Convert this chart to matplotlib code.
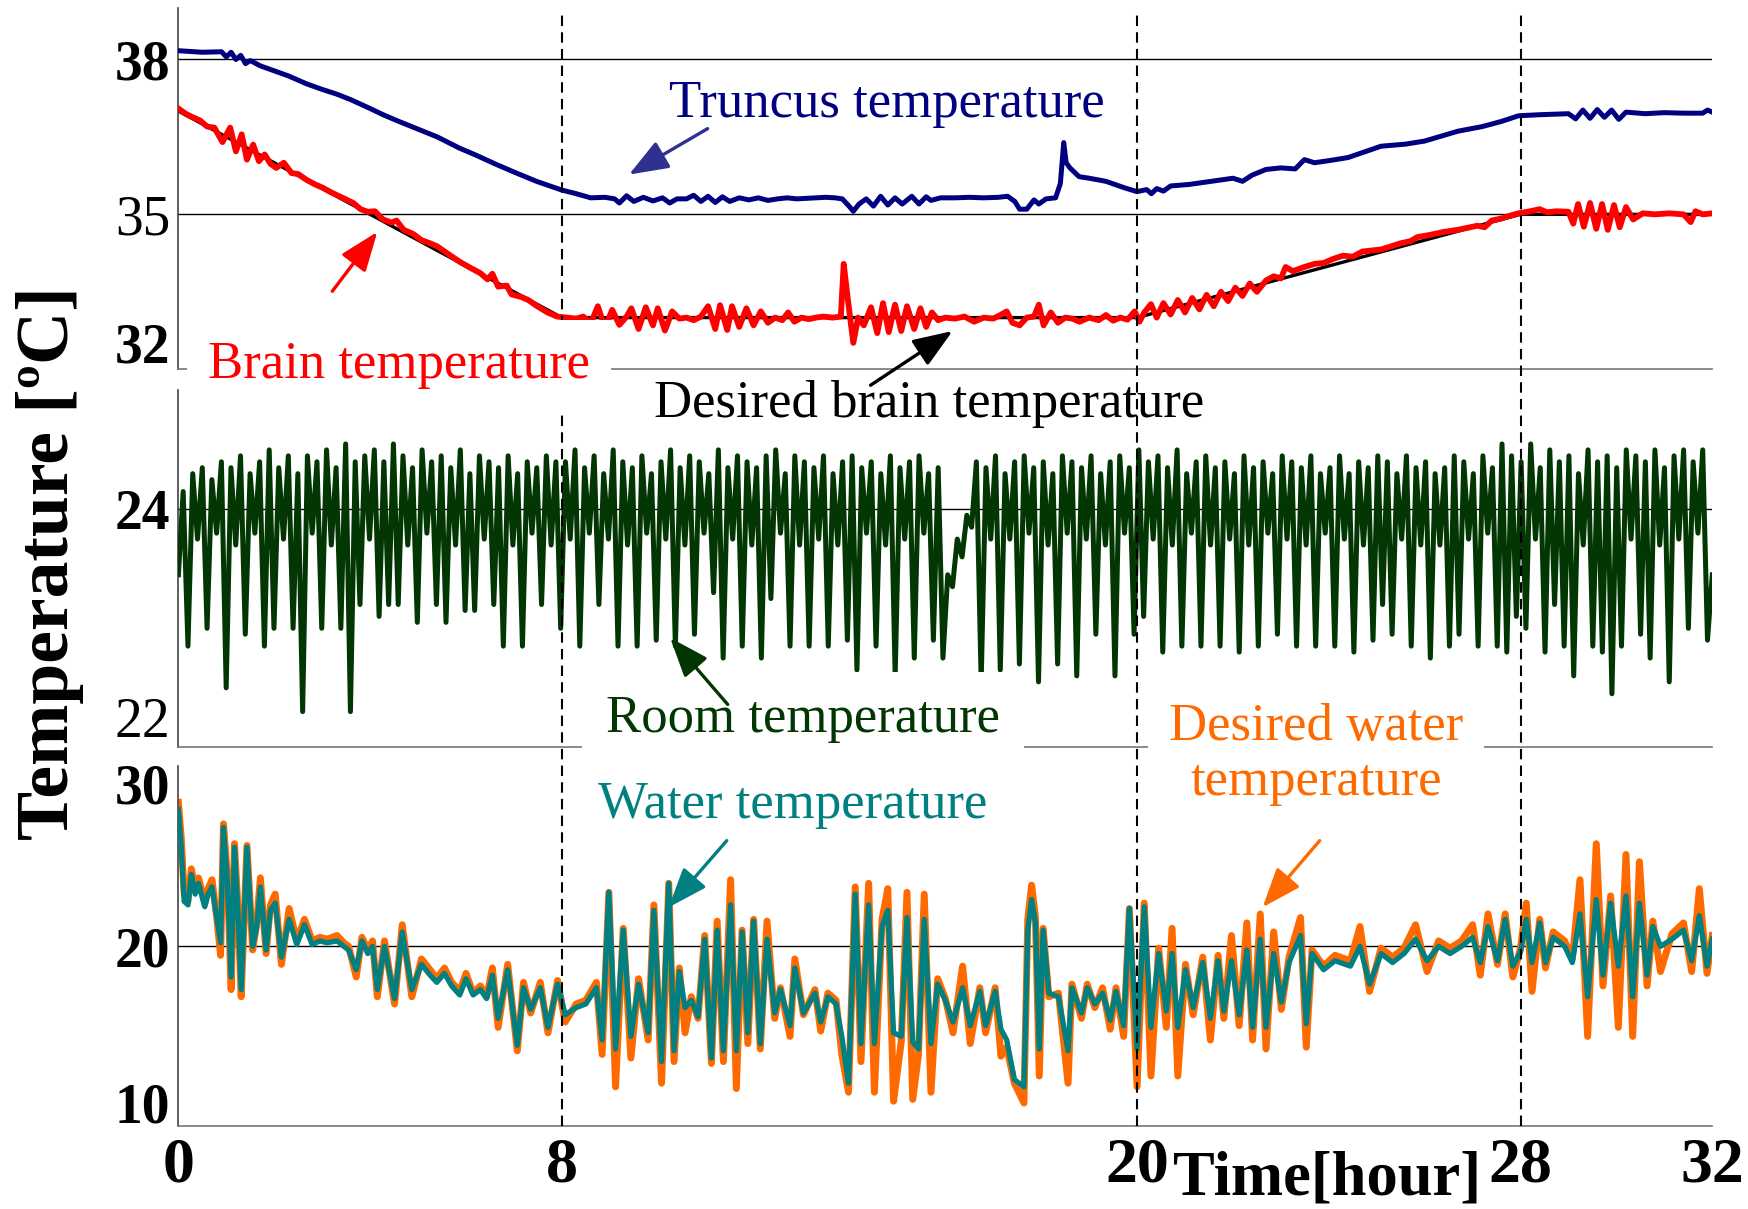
import numpy as np
import matplotlib
matplotlib.use("Agg")
import matplotlib.pyplot as plt
from matplotlib.transforms import ScaledTranslation, blended_transform_factory
from matplotlib.lines import Line2D
from matplotlib.patches import FancyArrowPatch

plt.rcParams['font.family'] = ['Liberation Serif', 'DejaVu Serif']

# ---------------- data ----------------
hours = [0, 8, 20, 28, 32]

# desired brain temperature (set points)
desired_brain_t = [0, 8, 20, 28, 32]
desired_brain = [37.0, 33.0, 33.0, 35.0, 35.0]

truncus_t = [0.00, 0.50, 0.90, 1.00, 1.10, 1.20, 1.30, 1.40, 1.50, 1.70,
             2.00, 2.30, 2.67, 3.00, 3.30, 3.60, 4.00, 4.27, 4.60, 5.00,
             5.40, 5.87, 6.20, 6.60, 7.00, 7.47, 8.00, 8.30, 8.60, 8.90,
             9.10, 9.20, 9.35, 9.50, 9.70, 9.90, 10.10, 10.25, 10.40, 10.60,
             10.75, 10.90, 11.05, 11.20, 11.35, 11.50, 11.70, 11.90, 12.10, 12.30,
             12.50, 12.70, 12.90, 13.10, 13.30, 13.50, 13.70, 13.85, 14.00, 14.08,
             14.20, 14.35, 14.50, 14.65, 14.80, 14.95, 15.10, 15.30, 15.45, 15.60,
             15.70, 15.90, 16.20, 16.50, 16.80, 17.10, 17.30, 17.45, 17.55, 17.70,
             17.85, 17.95, 18.10, 18.30, 18.40, 18.47, 18.52, 18.60, 18.79, 19.00,
             19.35, 19.75, 20.00, 20.20, 20.30, 20.41, 20.55, 20.70, 21.09, 21.40,
             21.70, 22.00, 22.20, 22.40, 22.69, 23.00, 23.30, 23.49, 23.70, 24.00,
             24.40, 25.09, 25.60, 26.00, 26.69, 27.20, 27.60, 27.96, 28.40, 29.00,
             29.15, 29.30, 29.45, 29.60, 29.75, 29.90, 30.05, 30.20, 30.60, 31.00,
             31.40, 31.80, 31.90, 32.00]
truncus = [38.17, 38.14, 38.15, 38.05, 38.14, 38.00, 38.08, 37.92, 37.98, 37.88,
           37.78, 37.68, 37.53, 37.42, 37.33, 37.22, 37.05, 36.93, 36.80, 36.65,
           36.50, 36.28, 36.15, 35.98, 35.82, 35.64, 35.47, 35.40, 35.32, 35.33,
           35.30, 35.22, 35.36, 35.25, 35.33, 35.26, 35.32, 35.22, 35.30, 35.30,
           35.37, 35.25, 35.35, 35.23, 35.34, 35.25, 35.32, 35.28, 35.32, 35.27,
           35.30, 35.32, 35.30, 35.31, 35.32, 35.33, 35.32, 35.30, 35.15, 35.06,
           35.20, 35.30, 35.16, 35.35, 35.18, 35.32, 35.20, 35.35, 35.20, 35.34,
           35.27, 35.32, 35.32, 35.33, 35.32, 35.33, 35.35, 35.25, 35.10, 35.10,
           35.28, 35.20, 35.30, 35.32, 35.60, 36.39, 36.00, 35.90, 35.73, 35.70,
           35.64, 35.51, 35.44, 35.48, 35.40, 35.50, 35.45, 35.55, 35.58, 35.62,
           35.66, 35.70, 35.64, 35.76, 35.87, 35.90, 35.88, 36.06, 36.00, 36.04,
           36.10, 36.32, 36.36, 36.42, 36.61, 36.70, 36.80, 36.91, 36.93, 36.95,
           36.85, 37.02, 36.86, 37.03, 36.88, 37.02, 36.84, 36.98, 36.95, 36.97,
           36.96, 36.96, 37.02, 36.98]

brain_t = [0.00, 0.15, 0.30, 0.45, 0.60, 0.75, 0.92, 1.08, 1.20, 1.32,
           1.43, 1.56, 1.68, 1.80, 1.92, 2.04, 2.20, 2.36, 2.50, 2.67,
           2.85, 3.00, 3.20, 3.47, 3.65, 3.80, 3.95, 4.10, 4.27, 4.45,
           4.55, 4.70, 4.90, 5.07, 5.25, 5.40, 5.60, 5.87, 6.10, 6.30,
           6.45, 6.55, 6.67, 6.85, 6.95, 7.15, 7.30, 7.47, 7.70, 7.90,
           8.10, 8.30, 8.45, 8.60, 8.75, 8.90, 9.05, 9.20, 9.35, 9.45,
           9.60, 9.75, 9.90, 10.00, 10.15, 10.30, 10.45, 10.60, 10.75, 10.90,
           11.05, 11.20, 11.30, 11.45, 11.55, 11.70, 11.85, 12.00, 12.15, 12.30,
           12.45, 12.60, 12.72, 12.85, 13.00, 13.15, 13.30, 13.45, 13.65, 13.82,
           13.88, 13.96, 14.08, 14.18, 14.30, 14.45, 14.58, 14.70, 14.82, 14.95,
           15.08, 15.20, 15.35, 15.48, 15.60, 15.72, 15.85, 16.00, 16.20, 16.40,
           16.60, 16.80, 17.00, 17.15, 17.28, 17.40, 17.55, 17.70, 17.85, 17.95,
           18.05, 18.20, 18.35, 18.50, 18.65, 18.80, 19.00, 19.20, 19.35, 19.50,
           19.65, 19.80, 19.95, 20.05, 20.15, 20.29, 20.41, 20.55, 20.70, 20.85,
           21.00, 21.15, 21.30, 21.45, 21.60, 21.75, 21.90, 22.05, 22.20, 22.35,
           22.50, 22.69, 22.85, 23.00, 23.10, 23.25, 23.49, 23.70, 23.90, 24.10,
           24.30, 24.50, 24.70, 25.09, 25.30, 25.50, 25.70, 25.85, 26.10, 26.40,
           26.69, 26.90, 27.10, 27.25, 27.40, 27.60, 27.80, 27.96, 28.20, 28.40,
           28.55, 28.75, 29.00, 29.10, 29.20, 29.32, 29.45, 29.58, 29.70, 29.82,
           29.95, 30.07, 30.20, 30.35, 30.55, 30.80, 31.10, 31.40, 31.55, 31.65,
           31.80, 32.00]
brain = [37.05, 36.95, 36.88, 36.82, 36.70, 36.68, 36.40, 36.68, 36.22, 36.55,
         36.06, 36.35, 36.03, 36.16, 35.98, 35.90, 36.00, 35.80, 35.78, 35.67,
         35.58, 35.52, 35.42, 35.30, 35.22, 35.10, 35.05, 35.06, 34.90, 34.84,
         34.88, 34.70, 34.62, 34.50, 34.44, 34.38, 34.25, 34.08, 33.96, 33.86,
         33.74, 33.85, 33.60, 33.62, 33.45, 33.40, 33.34, 33.23, 33.10, 33.02,
         33.00, 32.98, 33.02, 32.88, 33.22, 32.80, 33.15, 32.86, 33.02, 33.18,
         32.78, 33.20, 32.85, 33.18, 32.75, 33.12, 32.98, 33.00, 32.95, 33.02,
         33.22, 32.78, 33.24, 32.76, 33.22, 32.82, 33.18, 32.85, 33.12, 32.90,
         33.00, 32.95, 33.10, 32.92, 33.00, 32.97, 33.00, 33.02, 33.00, 33.02,
         34.04, 33.40, 32.51, 33.00, 32.85, 33.20, 32.70, 33.28, 32.72, 33.25,
         32.74, 33.22, 32.78, 33.18, 32.82, 33.10, 32.95, 33.00, 32.98, 33.02,
         32.92, 33.00, 32.98, 33.05, 33.12, 32.90, 32.85, 33.00, 33.02, 33.25,
         32.85, 33.10, 32.90, 33.00, 32.98, 32.92, 33.00, 32.95, 33.05, 32.94,
         33.00, 32.96, 33.12, 32.92, 33.10, 33.26, 33.00, 33.28, 33.06, 33.34,
         33.10, 33.38, 33.16, 33.44, 33.22, 33.50, 33.32, 33.58, 33.42, 33.66,
         33.50, 33.72, 33.80, 33.76, 33.98, 33.90, 33.98, 34.04, 34.06, 34.14,
         34.20, 34.18, 34.28, 34.32, 34.38, 34.44, 34.48, 34.56, 34.60, 34.66,
         34.70, 34.74, 34.78, 34.75, 34.88, 34.92, 34.98, 35.02, 35.06, 35.10,
         35.04, 35.06, 35.05, 34.82, 35.20, 34.76, 35.22, 34.72, 35.20, 34.70,
         35.18, 34.75, 35.14, 34.90, 35.02, 35.00, 35.02, 35.00, 34.85, 35.06,
         35.00, 35.02]

# room temperature: one peak and one trough per thermostat cycle (4 h per row)
room_start, room_end = 23.45, 23.45
room_peak = [24.15, 24.30, 24.35, 24.25, 24.40, 24.35, 24.45, 24.30, 24.40, 24.50,
             24.35, 24.45, 24.30, 24.45, 24.40, 24.50, 24.35, 24.55, 24.40, 24.45,
             24.50, 24.40, 24.55, 24.45, 24.35, 24.50, 24.40, 24.45, 24.35, 24.50,
             24.30, 24.45, 24.40, 24.35, 24.45, 24.30, 24.40, 24.35, 24.45, 24.40,
             24.40, 24.50, 24.35, 24.45, 24.30, 24.50, 24.40, 24.35, 24.45, 24.30,
             24.40, 24.50, 24.35, 24.45, 24.40, 24.30, 24.50, 24.35, 24.45, 24.40,
             24.35, 24.45, 24.50, 24.30, 24.45, 24.40, 24.35, 24.45, 24.30, 24.40,
             24.45, 24.35, 24.40, 24.30, 24.45, 24.35, 24.40, 24.45, 24.30, 24.35,
             23.45, 23.75, 23.95, 24.40, 24.35, 24.45, 24.30, 24.40, 24.45, 24.35,
             24.40, 24.30, 24.45, 24.40, 24.35, 24.45, 24.30, 24.40, 24.45, 24.35,
             24.50, 24.40, 24.45, 24.35, 24.50, 24.30, 24.40, 24.45, 24.35, 24.40,
             24.30, 24.45, 24.35, 24.40, 24.30, 24.45, 24.40, 24.35, 24.45, 24.30,
             24.35, 24.45, 24.30, 24.40, 24.35, 24.45, 24.40, 24.30, 24.45, 24.35,
             24.40, 24.30, 24.35, 24.45, 24.40, 24.30, 24.45, 24.35, 24.55, 24.45,
             24.40, 24.55, 24.35, 24.50, 24.40, 24.45, 24.30, 24.50, 24.40, 24.45,
             24.35, 24.50, 24.45, 24.40, 24.50, 24.35, 24.45, 24.50, 24.40, 24.50]
room_trough = [22.85, 23.75, 23.00, 23.80, 22.50, 23.70, 22.95, 23.80, 22.85, 23.00,
               23.75, 23.00, 22.30, 23.80, 23.00, 23.70, 23.00, 22.30, 23.20, 23.75,
               23.10, 23.20, 23.20, 23.70, 23.05, 23.80, 23.20, 23.05, 23.70, 23.15,
               23.15, 23.75, 23.20, 22.85, 23.70, 22.85, 23.80, 23.20, 23.70, 23.00,
               23.75, 22.85, 23.80, 23.20, 23.75, 22.85, 23.70, 22.85, 23.80, 22.90,
               23.75, 22.85, 23.70, 22.95, 23.80, 23.30, 22.75, 23.75, 22.85, 23.70,
               22.75, 23.25, 23.80, 22.85, 23.70, 22.85, 23.75, 22.85, 23.70, 22.90,
               22.65, 23.80, 22.85, 23.70, 22.60, 23.75, 22.75, 23.80, 22.90, 22.75,
               23.35, 23.60, 23.85, 22.55, 23.75, 22.65, 23.75, 22.70, 23.80, 22.55,
               23.70, 22.70, 23.80, 22.60, 23.75, 22.95, 23.70, 22.60, 23.80, 22.95,
               23.10, 23.75, 22.80, 23.70, 22.85, 23.80, 22.85, 23.70, 22.85, 23.75,
               22.80, 23.70, 22.85, 23.80, 22.95, 23.75, 22.85, 23.70, 22.85, 23.80,
               22.85, 23.75, 22.80, 23.70, 22.90, 23.20, 22.95, 23.75, 22.85, 23.70,
               22.75, 23.70, 22.85, 22.95, 23.75, 22.85, 23.80, 22.85, 22.80, 23.10,
               23.00, 23.75, 22.80, 23.20, 22.85, 22.60, 23.70, 22.85, 22.80, 22.45,
               22.85, 23.75, 22.95, 22.75, 23.70, 22.55, 23.75, 23.00, 23.80, 22.90]

water_t = [0.00, 0.06, 0.12, 0.20, 0.27, 0.35, 0.42, 0.55, 0.62, 0.70,
           0.80, 0.88, 0.94, 1.02, 1.10, 1.17, 1.24, 1.31, 1.43, 1.55,
           1.63, 1.71, 1.83, 1.92, 2.02, 2.15, 2.31, 2.47, 2.63, 2.79,
           2.95, 3.10, 3.31, 3.45, 3.55, 3.71, 3.83, 3.95, 4.05, 4.15,
           4.30, 4.51, 4.67, 4.87, 5.07, 5.25, 5.39, 5.55, 5.70, 5.87,
           6.00, 6.15, 6.30, 6.43, 6.55, 6.67, 6.87, 7.07, 7.20, 7.35,
           7.55, 7.71, 7.91, 8.07, 8.30, 8.50, 8.72, 8.84, 8.98, 9.12,
           9.28, 9.44, 9.60, 9.80, 9.92, 10.08, 10.23, 10.34, 10.45, 10.57,
           10.70, 10.84, 10.98, 11.12, 11.24, 11.37, 11.52, 11.64, 11.76, 11.88,
           12.00, 12.14, 12.28, 12.44, 12.56, 12.76, 12.86, 13.04, 13.28, 13.40,
           13.55, 13.72, 13.84, 13.98, 14.12, 14.24, 14.40, 14.52, 14.68, 14.80,
           14.92, 15.08, 15.20, 15.32, 15.44, 15.56, 15.70, 15.84, 16.00, 16.16,
           16.36, 16.52, 16.72, 16.84, 17.04, 17.16, 17.28, 17.44, 17.64, 17.72,
           17.80, 17.88, 17.96, 18.04, 18.16, 18.36, 18.56, 18.64, 18.84, 18.96,
           19.12, 19.28, 19.44, 19.56, 19.72, 19.84, 20.00, 20.15, 20.29, 20.45,
           20.61, 20.73, 20.85, 21.01, 21.17, 21.37, 21.53, 21.69, 21.81, 21.97,
           22.13, 22.29, 22.41, 22.57, 22.69, 22.85, 23.01, 23.17, 23.41, 23.53,
           23.65, 23.89, 24.13, 24.45, 24.65, 24.85, 25.09, 25.33, 25.57, 25.81,
           26.05, 26.29, 26.53, 26.77, 27.00, 27.16, 27.32, 27.52, 27.68, 27.84,
           28.00, 28.12, 28.24, 28.40, 28.52, 28.68, 28.92, 29.08, 29.24, 29.40,
           29.58, 29.72, 29.88, 30.04, 30.20, 30.34, 30.48, 30.64, 30.76, 30.92,
           31.16, 31.40, 31.57, 31.73, 31.89, 32.00]
water = [27.6, 25.5, 22.5, 22.3, 24.0, 22.9, 23.5, 22.2, 22.9, 23.3,
         21.6, 20.2, 26.6, 23.7, 18.3, 25.5, 22.0, 17.6, 25.5, 20.0,
         21.0, 23.3, 19.8, 22.0, 22.4, 19.4, 21.5, 20.1, 21.2, 20.1,
         20.3, 20.2, 20.3, 20.0, 19.8, 18.7, 20.3, 19.6, 20.0, 17.6,
         20.0, 17.1, 20.8, 17.6, 19.0, 18.4, 18.0, 18.5, 17.8, 17.3,
         18.2, 17.3, 17.6, 17.1, 18.4, 16.0, 18.7, 14.5, 17.7, 16.5,
         17.7, 15.5, 17.9, 16.2, 16.6, 16.8, 17.7, 14.8, 23.0, 14.3,
         20.9, 15.0, 17.9, 15.2, 22.0, 13.6, 23.5, 14.2, 18.6, 16.6,
         17.0, 16.1, 20.4, 13.8, 20.9, 14.2, 22.3, 14.2, 20.8, 15.2,
         21.4, 14.6, 20.4, 16.3, 17.6, 15.6, 18.8, 16.3, 17.4, 15.8,
         17.2, 16.8, 15.0, 12.4, 22.9, 14.6, 22.3, 14.6, 21.1, 22.0,
         15.2, 15.0, 21.6, 14.7, 14.3, 21.5, 14.6, 17.9, 17.0, 15.8,
         17.7, 15.6, 17.5, 15.6, 17.5, 15.4, 14.8, 12.6, 12.2, 20.9,
         22.6, 21.3, 14.3, 20.9, 17.4, 17.2, 14.2, 17.7, 16.3, 17.7,
         16.8, 17.4, 15.9, 17.5, 15.6, 22.1, 14.3, 22.2, 15.5, 19.6,
         16.4, 19.6, 15.5, 18.7, 16.6, 19.1, 16.0, 19.2, 16.4, 19.2,
         16.2, 19.8, 15.5, 20.4, 15.5, 19.6, 16.9, 19.1, 20.6, 15.7,
         19.6, 18.7, 19.2, 18.9, 20.0, 17.9, 19.6, 19.1, 19.6, 20.4,
         19.2, 20.0, 19.6, 20.0, 20.5, 19.1, 21.1, 19.2, 21.5, 18.9,
         19.7, 21.5, 19.1, 21.3, 19.1, 20.5, 20.0, 19.1, 21.8, 17.2,
         22.6, 18.4, 22.4, 18.9, 22.8, 17.2, 22.4, 18.4, 21.1, 20.0,
         20.4, 20.9, 19.2, 21.7, 18.9, 20.4]
desired_water = [28.0, 26.0, 22.9, 22.5, 24.3, 23.1, 23.8, 22.4, 23.2, 23.7,
                 21.6, 19.5, 26.8, 24.0, 17.6, 25.7, 22.2, 17.2, 25.6, 19.8,
                 21.2, 23.8, 19.6, 22.3, 22.9, 19.0, 22.1, 20.3, 21.5, 20.3,
                 20.5, 20.4, 20.6, 20.2, 20.0, 18.3, 20.5, 19.8, 20.3, 17.2,
                 20.3, 16.8, 21.2, 17.2, 19.3, 18.7, 18.2, 18.8, 18.0, 17.5,
                 18.5, 17.4, 17.8, 17.2, 18.8, 15.5, 19.0, 14.2, 18.0, 16.3,
                 18.0, 15.2, 18.1, 15.8, 16.8, 17.0, 18.0, 14.0, 23.0, 12.2,
                 21.0, 13.8, 18.2, 14.8, 22.3, 12.4, 23.5, 13.6, 18.8, 15.2,
                 17.2, 16.0, 20.6, 13.5, 21.4, 13.6, 23.7, 12.1, 20.9, 14.6,
                 21.5, 14.3, 21.4, 16.0, 17.7, 15.0, 19.3, 16.2, 17.6, 15.3,
                 17.4, 17.0, 14.0, 11.9, 23.3, 13.6, 23.5, 11.9, 21.5, 23.2,
                 11.4, 14.7, 23.0, 11.5, 14.0, 22.9, 11.9, 18.2, 17.1, 15.2,
                 18.9, 14.6, 17.7, 15.2, 17.7, 13.9, 14.4, 12.4, 11.3, 21.5,
                 23.4, 21.6, 12.8, 21.0, 17.2, 17.4, 12.4, 17.9, 16.0, 17.9,
                 16.6, 17.7, 15.4, 17.7, 15.0, 22.1, 12.2, 22.4, 12.8, 19.9,
                 15.5, 21.0, 12.8, 19.0, 16.2, 19.4, 14.8, 19.5, 16.0, 20.6,
                 15.6, 21.3, 14.8, 21.8, 14.3, 20.8, 16.5, 19.4, 21.6, 14.4,
                 19.8, 18.9, 19.5, 19.2, 21.1, 17.5, 19.9, 19.4, 19.9, 21.2,
                 18.6, 20.3, 19.9, 20.3, 21.2, 18.4, 21.8, 19.0, 21.8, 18.3,
                 19.9, 22.4, 17.5, 21.5, 18.8, 20.8, 20.3, 19.3, 23.7, 15.0,
                 25.7, 17.8, 22.8, 15.5, 25.1, 15.0, 24.7, 17.8, 21.4, 18.6,
                 20.7, 21.3, 18.6, 23.2, 18.5, 20.6]

# ---------------- colours ----------------
c_truncus = '#000080'
c_brain = '#ff0000'
c_room = '#023602'
c_water = '#008080'
c_setwater = '#ff6a00'

room = np.concatenate([[room_start],
                       np.column_stack([room_peak, room_trough]).ravel(),
                       [room_end]])
room_t = np.linspace(0, 32, len(room))

fig = plt.figure(figsize=(17.49, 12.09), dpi=100)
left, width = 0.102, 0.877
ax1 = fig.add_axes([left, 0.6946, width, 0.2989])
ax2 = fig.add_axes([left, 0.3819, width, 0.2952])
ax3 = fig.add_axes([left, 0.0683, width, 0.2979])

for ax in (ax1, ax2, ax3):
    ax.set_facecolor('none')
    ax.set_xlim(0, 32)
    for s in ('top', 'right'):
        ax.spines[s].set_visible(False)
    ax.spines['left'].set_color('#444444')
    ax.spines['bottom'].set_color('#777777')
    ax.spines['left'].set_linewidth(1.2)
    ax.spines['bottom'].set_linewidth(1.2)
    ax.tick_params(length=0)

# top panel
ax1.set_ylim(32, 39)
ax1.axhline(35, color='black', lw=1.0, zorder=1)
ax1.axhline(38, color='black', lw=1.0, zorder=1)
ax1.plot(desired_brain_t, desired_brain, color='black', lw=2.4, zorder=2)
ax1.plot(brain_t, brain, color=c_brain, lw=4.2, zorder=3)
ax1.plot(truncus_t, truncus, color=c_truncus, lw=3.6, zorder=3)

# middle panel
ax2.set_ylim(22, 25)
ax2.axhline(24, color='black', lw=1.0, zorder=1)
ax2.plot(room_t, room, color=c_room, lw=3.6, zorder=3)

# bottom panel
ax3.set_ylim(10, 30)
ax3.axhline(20, color='black', lw=1.0, zorder=1)
ax3.plot(water_t, desired_water, color=c_setwater, lw=5.0, zorder=2)
ax3.plot(water_t, water, color=c_water, lw=3.8, zorder=3)

# ticks
tick_fs = 40


def set_yt(ax, vals, weights, nudges):
    ax.set_yticks(vals)
    ax.set_yticklabels([str(v) for v in vals], fontsize=tick_fs)
    ax.tick_params(axis='y', pad=6)
    for lab, w, dy in zip(ax.get_yticklabels(), weights, nudges):
        lab.set_fontweight(w)
        if dy:
            lab.set_transform(lab.get_transform()
                              + ScaledTranslation(0, dy, fig.dpi_scale_trans))


set_yt(ax1, [32, 35, 38], ['bold', 'normal', 'bold'], [0.27, 0, 0])
set_yt(ax2, [22, 24], ['normal', 'bold'], [0.30, 0])
set_yt(ax3, [10, 20, 30], ['bold', 'bold', 'bold'], [0.24, 0, -0.17])

ax1.set_xticks(hours)
ax2.set_xticks(hours)
ax1.set_xticklabels([])
ax2.set_xticklabels([])
ax3.set_xticks(hours)
ax3.set_xticklabels([str(h) for h in hours], fontsize=46, fontweight='bold')
ax3.tick_params(axis='x', pad=8)

# dashed phase boundaries through all panels
trans = blended_transform_factory(ax3.transData, fig.transFigure)
for h in hours[1:-1]:
    fig.add_artist(Line2D([h, h], [0.0683, 0.989], transform=trans,
                          color='black', lw=1.5, ls=(0, (5, 3)), zorder=4))

# axis labels
fig.text(0.0287, 0.534, 'Temperature [ºC]', rotation=90, ha='center',
         va='center', fontsize=53, fontweight='bold')
fig.text(0.759, 0.024, 'Time[hour]', ha='center', va='center',
         fontsize=45, fontweight='bold')

# annotations
txt_fs = 38
fig.text(0.507, 0.914, 'Truncus temperature', color=c_truncus,
         fontsize=txt_fs, ha='center', va='center')
fig.text(0.228, 0.698, 'Brain temperature', color=c_brain, fontsize=txt_fs,
         ha='center', va='center', zorder=5,
         bbox=dict(boxstyle='square,pad=0.4', fc='white', ec='none'))
fig.text(0.531, 0.666, 'Desired brain temperature', color='black',
         fontsize=txt_fs, ha='center', va='center')
fig.text(0.459, 0.405, 'Room temperature', color=c_room, fontsize=txt_fs,
         ha='center', va='center', zorder=5,
         bbox=dict(boxstyle='square,pad=0.45', fc='white', ec='none'))
fig.text(0.7525, 0.376, 'Desired water\ntemperature', color=c_setwater,
         fontsize=txt_fs, ha='center', va='center', linespacing=1.2,
         multialignment='center', zorder=5,
         bbox=dict(boxstyle='square,pad=0.4', fc='white', ec='none'))
fig.text(0.453, 0.334, 'Water temperature', color=c_water, fontsize=txt_fs,
         ha='center', va='center')


def arrow(ax, tip, tail, color):
    # drawn on the figure so it stays above the white label boxes
    fig.add_artist(FancyArrowPatch(
        tail, tip, transform=ax.transData, zorder=6,
        arrowstyle='-|>,head_length=1.1,head_width=0.42',
        mutation_scale=22, color=color, lw=2.4, shrinkA=0, shrinkB=0))


arrow(ax1, (9.40, 35.77), (11.04, 36.66), '#2e3192')
arrow(ax1, (4.15, 34.66), (3.21, 33.51), c_brain)
arrow(ax1, (16.15, 32.74), (14.44, 31.69), 'black')
arrow(ax2, (10.26, 22.92), (11.46, 22.36), c_room)
arrow(ax3, (10.23, 22.17), (11.44, 25.87), c_water)
arrow(ax3, (22.62, 22.17), (23.81, 25.87), c_setwater)

fig.savefig('out.png', dpi=100)
